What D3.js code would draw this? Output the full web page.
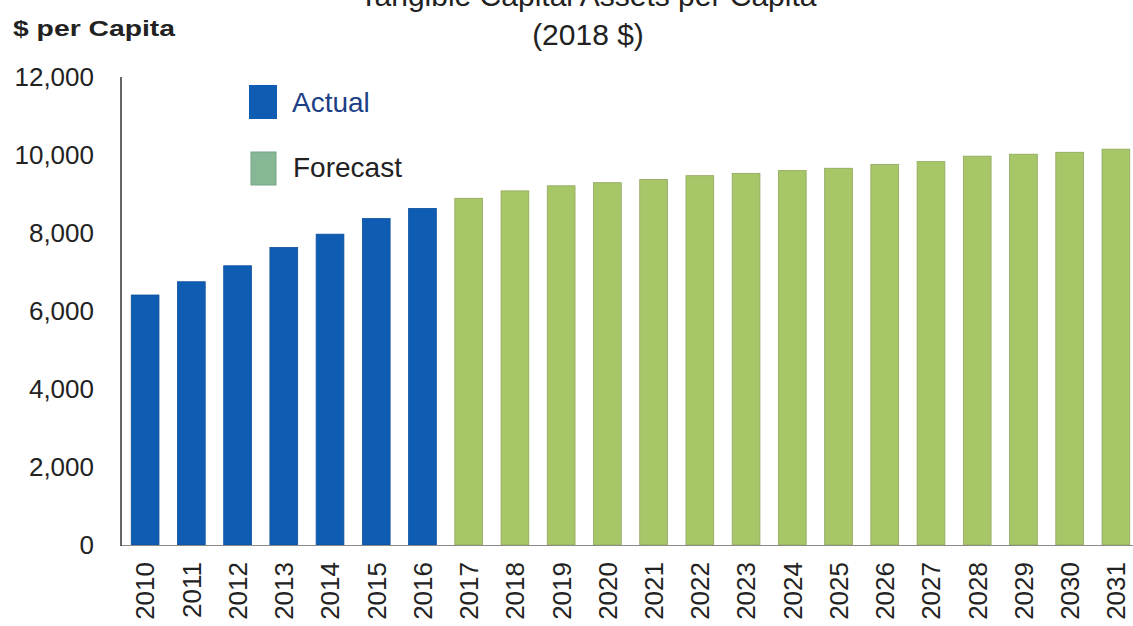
<!DOCTYPE html>
<html>
<head>
<meta charset="utf-8">
<script src="https://cdn.jsdelivr.net/npm/d3@7"></script>
<style>
  html, body { margin: 0; padding: 0; background: #fff; }
  svg { display: block; font-family: "Liberation Sans", Arial, sans-serif; }
</style>
</head>
<body>
<svg id="chart" width="1133" height="626"></svg>
<script>
// ---- data ----
const actualYears = ["2010","2011","2012","2013","2014","2015","2016"];
const actualValues = [6410, 6750, 7160, 7630, 7970, 8370, 8630];
const forecastYears = ["2017","2018","2019","2020","2021","2022","2023","2024","2025","2026","2027","2028","2029","2030","2031"];
const forecastValues = [8890, 9080, 9210, 9290, 9370, 9470, 9530, 9600, 9660, 9760, 9830, 9970, 10020, 10070, 10150];
const yTicks = [0, 2000, 4000, 6000, 8000, 10000, 12000];
const legendLabels = ["Actual", "Forecast"];
const titleLines = ["Tangible Capital Assets per Capita", "(2018 $)"];
const yAxisTitle = "$ per Capita";

// ---- build ----
const rows = actualYears.map((y, i) => ({year: y, value: actualValues[i], kind: "actual"}))
  .concat(forecastYears.map((y, i) => ({year: y, value: forecastValues[i], kind: "forecast"})));

const svg = d3.select("#chart");
const colors = {
  actual: {fill: "#0f5db2", stroke: "#0b4f9c"},
  forecast: {fill: "#a7c667", stroke: "#8fa65c"}
};

const x = d3.scaleBand()
  .domain(rows.map(d => d.year))
  .range([122, 1139])
  .paddingInner(0.4)
  .paddingOuter(0.2);

const y = d3.scaleLinear().domain([0, 12000]).range([545, 77]);

// bars
svg.append("g").selectAll("rect")
  .data(rows)
  .join("rect")
  .attr("x", d => x(d.year))
  .attr("width", x.bandwidth())
  .attr("y", d => y(d.value))
  .attr("height", d => y(0) - y(d.value))
  .attr("fill", d => colors[d.kind].fill)
  .attr("stroke", d => colors[d.kind].stroke)
  .attr("stroke-width", 0.8);

// x baseline
svg.append("line")
  .attr("x1", 121).attr("x2", 1133)
  .attr("y1", y(0) + 0.5).attr("y2", y(0) + 0.5)
  .attr("stroke", "#8a8a8a").attr("stroke-width", 1.2);

// y axis (line + labels, no tick marks)
const yAxis = d3.axisLeft(y)
  .tickValues(yTicks)
  .tickFormat(d3.format(","))
  .tickSize(0)
  .tickPadding(27);
const yg = svg.append("g").attr("transform", "translate(121,0)").call(yAxis);
yg.select(".domain").attr("stroke", "#333").attr("stroke-width", 1.5)
  .attr("d", `M0,${y(12000)}V${y(0) + 1}`);
yg.selectAll("text")
  .attr("font-size", 26)
  .attr("fill", "#222")
  .attr("font-family", "'Liberation Sans', Arial, sans-serif");

// x labels (rotated)
const xAxis = d3.axisBottom(x).tickSize(0).tickPadding(0);
const xg = svg.append("g").attr("transform", `translate(0,${y(0)})`).call(xAxis);
xg.select(".domain").remove();
xg.selectAll("text")
  .attr("font-size", 26)
  .attr("fill", "#222")
  .attr("font-family", "'Liberation Sans', Arial, sans-serif")
  .attr("text-anchor", "end")
  .attr("transform", "translate(0,17) rotate(-90)")
  .attr("x", 0)
  .attr("y", 0)
  .attr("dy", "0.36em");

// title
svg.append("text")
  .attr("x", 588).attr("y", 6)
  .attr("text-anchor", "middle")
  .attr("font-size", 30).attr("fill", "#222")
  .text(titleLines[0]);
svg.append("text")
  .attr("x", 588).attr("y", 45)
  .attr("text-anchor", "middle")
  .attr("font-size", 30).attr("fill", "#222")
  .text(titleLines[1]);

// y axis title
svg.append("text")
  .attr("x", 13).attr("y", 36)
  .attr("font-size", 22).attr("font-weight", "bold").attr("fill", "#222")
  .attr("textLength", 162).attr("lengthAdjust", "spacingAndGlyphs")
  .text(yAxisTitle);

// legend
const legend = svg.append("g");
legend.append("rect")
  .attr("x", 249).attr("y", 85).attr("width", 28).attr("height", 34)
  .attr("fill", "#0f5db2");
legend.append("text")
  .attr("x", 292).attr("y", 112)
  .attr("font-size", 28).attr("fill", "#1c3f86")
  .text(legendLabels[0]);
legend.append("rect")
  .attr("x", 251).attr("y", 152).attr("width", 25).attr("height", 33)
  .attr("fill", "#86b896").attr("stroke", "#74a585").attr("stroke-width", 1);
legend.append("text")
  .attr("x", 293).attr("y", 177)
  .attr("font-size", 28).attr("fill", "#222")
  .text(legendLabels[1]);
</script>
</body>
</html>
